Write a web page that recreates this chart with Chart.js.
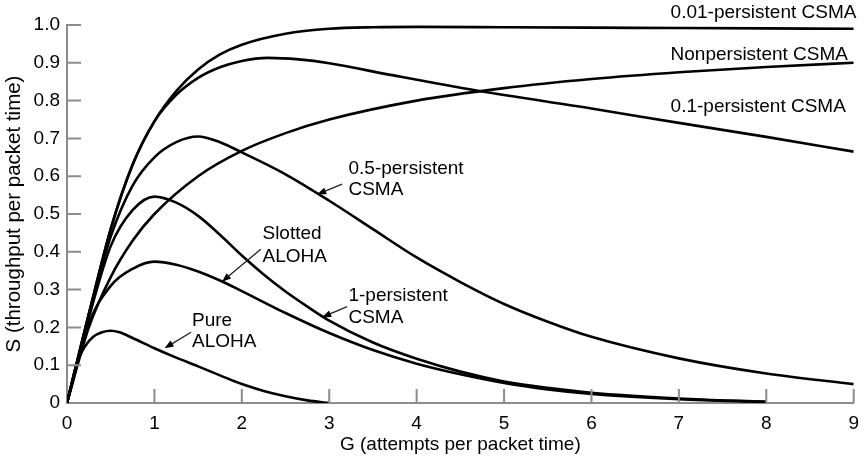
<!DOCTYPE html>
<html lang="en">
<head>
    <meta charset="UTF-8">
    <title>Throughput vs offered load</title>
    <style>
        body { margin: 0; background: #fff; }
        .chart-container { position: relative; width: 868px; height: 457px; }
    </style>
    <script src="https://cdn.jsdelivr.net/npm/chart.js"></script>
</head>
<body>
    <div class="chart-container">
        <canvas id="throughputChart"></canvas>
    </div>

    <script>
        // G values (attempts per packet time) and S values (throughput)
        const gPure = [0, 0.1, 0.15, 0.2, 0.3, 0.4, 0.5, 0.6, 0.75, 1, 1.25, 1.5, 1.75, 2, 2.25, 2.5, 2.75, 3];
        const sPure = [0, 0.095, 0.125, 0.148, 0.175, 0.187, 0.191, 0.187, 0.172, 0.145, 0.12, 0.097, 0.073, 0.05, 0.032, 0.018, 0.007, 0];

        const gSlotted = [0, 0.25, 0.5, 0.75, 1, 1.25, 1.5, 1.75, 2, 2.5, 3, 3.5, 4, 4.5, 5, 5.5, 6, 7, 8];
        const sSlotted = [0, 0.21, 0.31, 0.355, 0.374, 0.366, 0.348, 0.324, 0.296, 0.238, 0.185, 0.14, 0.104, 0.076, 0.053, 0.036, 0.024, 0.01, 0.003];

        const gOnePersist = [0, 0.25, 0.5, 0.75, 1, 1.25, 1.5, 1.75, 2, 2.25, 2.5, 2.75, 3, 3.5, 4, 4.5, 5, 5.5, 6, 7, 8];
        const sOnePersist = [0, 0.225, 0.415, 0.51, 0.546, 0.53, 0.495, 0.445, 0.39, 0.34, 0.295, 0.255, 0.218, 0.16, 0.117, 0.083, 0.057, 0.04, 0.027, 0.012, 0.003];

        const gHalfPersist = [0, 0.25, 0.5, 0.75, 1, 1.25, 1.5, 1.75, 2, 2.5, 3, 3.5, 4, 4.5, 5, 5.5, 6, 7, 8, 9];
        const sHalfPersist = [0, 0.235, 0.44, 0.575, 0.65, 0.69, 0.705, 0.69, 0.663, 0.605, 0.535, 0.46, 0.385, 0.32, 0.262, 0.215, 0.175, 0.118, 0.078, 0.05];

        const gNonPersist = [0, 0.25, 0.5, 0.75, 1, 1.5, 2, 2.5, 3, 4, 5, 6, 7, 8, 9];
        const sNonPersist = [0, 0.2, 0.333, 0.429, 0.5, 0.6, 0.667, 0.714, 0.75, 0.8, 0.833, 0.857, 0.875, 0.889, 0.9];

        const gTenthPersist = [0, 0.25, 0.5, 0.75, 1, 1.25, 1.5, 1.75, 2, 2.3, 2.65, 3, 3.7, 4.7, 6, 7, 8, 9];
        const sTenthPersist = [0, 0.235, 0.46, 0.63, 0.745, 0.815, 0.86, 0.888, 0.905, 0.913, 0.909, 0.899, 0.868, 0.826, 0.779, 0.741, 0.704, 0.665];

        const gHundredthPersist = [0, 0.25, 0.5, 0.75, 1, 1.25, 1.5, 1.75, 2, 2.5, 3, 3.5, 4, 5, 6, 7, 8, 9];
        const sHundredthPersist = [0, 0.235, 0.46, 0.63, 0.745, 0.825, 0.882, 0.922, 0.948, 0.977, 0.99, 0.994, 0.995, 0.994, 0.993, 0.992, 0.991, 0.99];

        const xTicks = [0, 1, 2, 3, 4, 5, 6, 7, 8, 9];
        const yTicks = [0, 0.1, 0.2, 0.3, 0.4, 0.5, 0.6, 0.7, 0.8, 0.9, 1.0];

        // curve labels: text lines, left edge and baselines in data units
        const curveLabels = [
            { lines: ['0.01-persistent CSMA'], g: 6.905, s: [1.018] },
            { lines: ['Nonpersistent CSMA'], g: 6.905, s: [0.907] },
            { lines: ['0.1-persistent CSMA'], g: 6.905, s: [0.771] },
            { lines: ['0.5-persistent', 'CSMA'], g: 3.22, s: [0.607, 0.55], arrow: [3.147, 0.579, 2.862, 0.552] },
            { lines: ['Slotted', 'ALOHA'], g: 2.236, s: [0.433, 0.374], arrow: [2.217, 0.407, 1.773, 0.321] },
            { lines: ['1-persistent', 'CSMA'], g: 3.22, s: [0.271, 0.212], arrow: [3.204, 0.255, 2.919, 0.227] },
            { lines: ['Pure', 'ALOHA'], g: 1.43, s: [0.204, 0.148], arrow: [1.42, 0.187, 1.116, 0.145] }
        ];

        const FONT = '"Liberation Sans", Arial, sans-serif';
        const AXIS_GRAY = '#8c8c8c';

        function toPoints(gs, ss) {
            return gs.map((g, i) => ({ x: g, y: ss[i] }));
        }

        function curve(gs, ss) {
            return {
                data: toPoints(gs, ss),
                borderColor: '#000',
                borderWidth: 2.6,
                pointRadius: 0,
                fill: false,
                cubicInterpolationMode: 'monotone'
            };
        }

        // ticks in the original point inward from the axes
        const innerTicks = {
            id: 'innerTicks',
            afterDatasetsDraw(chart) {
                const ctx = chart.ctx;
                const xs = chart.scales.x, ys = chart.scales.y;
                const area = chart.chartArea;
                ctx.save();
                ctx.strokeStyle = AXIS_GRAY;
                ctx.lineWidth = 2;
                ctx.beginPath();
                xTicks.forEach(v => {
                    if (v === 0) return;
                    const px = xs.getPixelForValue(v);
                    ctx.moveTo(px, area.bottom);
                    ctx.lineTo(px, area.bottom - 14);
                });
                yTicks.forEach(v => {
                    if (v === 0) return;
                    const py = ys.getPixelForValue(v);
                    ctx.moveTo(area.left, py);
                    ctx.lineTo(area.left + 14, py);
                });
                ctx.stroke();
                ctx.restore();
            }
        };

        const curveText = {
            id: 'curveText',
            afterDraw(chart) {
                const ctx = chart.ctx;
                const xs = chart.scales.x, ys = chart.scales.y;
                ctx.save();
                ctx.fillStyle = '#000';
                ctx.font = '19px ' + FONT;
                ctx.textAlign = 'left';
                ctx.textBaseline = 'alphabetic';
                curveLabels.forEach(lab => {
                    const px = xs.getPixelForValue(lab.g);
                    lab.lines.forEach((t, i) => ctx.fillText(t, px, ys.getPixelForValue(lab.s[i])));
                    if (lab.arrow) {
                        const x0 = xs.getPixelForValue(lab.arrow[0]), y0 = ys.getPixelForValue(lab.arrow[1]);
                        const x1 = xs.getPixelForValue(lab.arrow[2]), y1 = ys.getPixelForValue(lab.arrow[3]);
                        const ang = Math.atan2(y1 - y0, x1 - x0);
                        ctx.strokeStyle = '#222';
                        ctx.lineWidth = 1.3;
                        ctx.beginPath();
                        ctx.moveTo(x0, y0);
                        ctx.lineTo(x1 - 6 * Math.cos(ang), y1 - 6 * Math.sin(ang));
                        ctx.stroke();
                        ctx.fillStyle = '#000';
                        ctx.beginPath();
                        ctx.moveTo(x1, y1);
                        ctx.lineTo(x1 - 9 * Math.cos(ang) + 3.5 * Math.sin(ang), y1 - 9 * Math.sin(ang) - 3.5 * Math.cos(ang));
                        ctx.lineTo(x1 - 9 * Math.cos(ang) - 3.5 * Math.sin(ang), y1 - 9 * Math.sin(ang) + 3.5 * Math.cos(ang));
                        ctx.closePath();
                        ctx.fill();
                    }
                });
                ctx.restore();
            }
        };

        const ctx = document.getElementById('throughputChart').getContext('2d');
        new Chart(ctx, {
            type: 'line',
            data: {
                datasets: [
                    curve(gPure, sPure),
                    curve(gSlotted, sSlotted),
                    curve(gOnePersist, sOnePersist),
                    curve(gHalfPersist, sHalfPersist),
                    curve(gNonPersist, sNonPersist),
                    curve(gTenthPersist, sTenthPersist),
                    curve(gHundredthPersist, sHundredthPersist)
                ]
            },
            options: {
                responsive: true,
                maintainAspectRatio: false,
                animation: false,
                layout: { padding: { left: 0, top: 25, right: 11, bottom: 0 } },
                plugins: { legend: { display: false }, tooltip: { enabled: false } },
                scales: {
                    x: {
                        type: 'linear',
                        min: 0,
                        max: 9,
                        afterFit: s => { s.height = 54; },
                        afterBuildTicks: s => { s.ticks = xTicks.map(v => ({ value: v })); },
                        grid: { display: false, drawTicks: false },
                        border: { display: true, color: AXIS_GRAY, width: 2 },
                        ticks: { color: '#000', font: { family: FONT, size: 19 }, padding: 9, maxRotation: 0 },
                        title: {
                            display: true,
                            text: 'G (attempts per packet time)',
                            color: '#000',
                            font: { family: FONT, size: 19 },
                            padding: { top: 0, bottom: 1 }
                        }
                    },
                    y: {
                        type: 'linear',
                        min: 0,
                        max: 1,
                        afterFit: s => { s.width = 67; },
                        afterBuildTicks: s => { s.ticks = yTicks.map(v => ({ value: v })); },
                        grid: { display: false, drawTicks: false },
                        border: { display: true, color: AXIS_GRAY, width: 2 },
                        ticks: {
                            color: '#000',
                            font: { family: FONT, size: 19 },
                            padding: 7,
                            callback: v => v === 0 ? '0' : v.toFixed(1)
                        },
                        title: {
                            display: true,
                            text: 'S (throughput per packet time)',
                            color: '#000',
                            font: { family: FONT, size: 20.5 },
                            padding: { top: 2, bottom: 0 }
                        }
                    }
                }
            },
            plugins: [innerTicks, curveText]
        });
    </script>
</body>
</html>
